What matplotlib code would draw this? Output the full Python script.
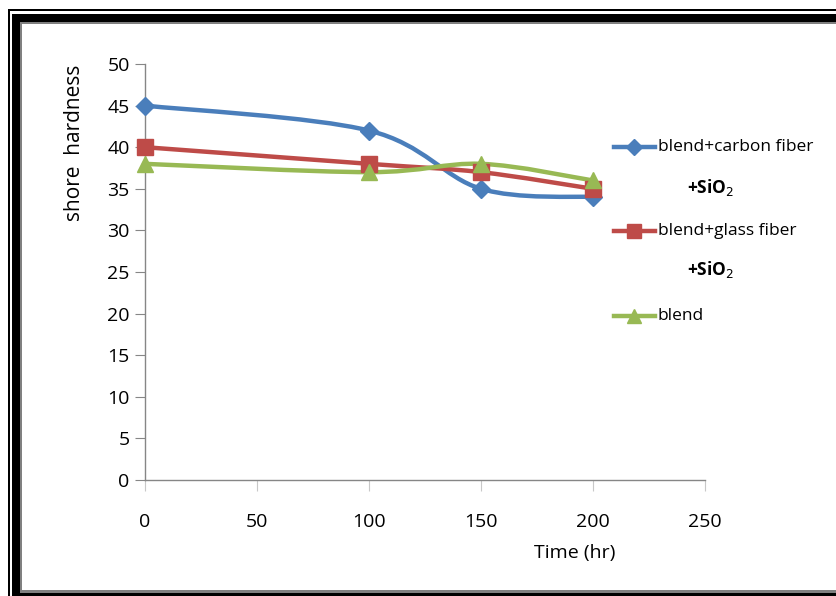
import numpy as np
import matplotlib
matplotlib.use("Agg")
import matplotlib.pyplot as plt
from matplotlib.path import Path
from matplotlib.patches import PathPatch, Rectangle
from matplotlib.lines import Line2D

plt.rcParams['font.family'] = ['Open Sans', 'DejaVu Sans']

# data
time_hr = [0, 100, 150, 200]
carbon = [45, 42, 35, 34]
glass = [40, 38, 37, 35]
blend = [38, 37, 38, 36]
series_names = ['blend+carbon fiber', 'blend+glass fiber', 'blend']
x_ticks = [0, 50, 100, 150, 200, 250]
y_ticks = [0, 5, 10, 15, 20, 25, 30, 35, 40, 45, 50]

colors = ['#4a7ebb', '#be4b48', '#98b954']
markers = ['D', 's', '^']
msizes = [9, 12, 12]

W, H = 837, 596
fig = plt.figure(figsize=(W / 100, H / 100), dpi=100)


def fx(px):
    return px / W


def fy(py):
    return 1 - py / H


# decorative double frame (open on the right side)
def rect(x0, y0, x1, y1, color):
    fig.add_artist(Rectangle((fx(x0), fy(y1)), fx(x1 - x0), fy(y0) - fy(y1),
                             transform=fig.transFigure, facecolor=color,
                             edgecolor='none', zorder=0))


rect(8, 9, 900, 700, 'black')
rect(10, 11, 900, 700, 'white')
rect(12, 14, 900, 700, 'black')
rect(20, 22, 900, 593, '#808080')
rect(22, 24, 900, 590, 'white')

ax = fig.add_axes([fx(145), fy(480), fx(705 - 145), fy(64) - fy(480)])
ax.set_facecolor('none')


def smooth_path(xs, ys):
    # Excel-style smoothed line through the data points (Catmull-Rom as Bezier)
    p = np.column_stack([xs, ys]).astype(float)
    verts = [p[0]]
    codes = [Path.MOVETO]
    n = len(p)
    for i in range(n - 1):
        p0 = p[i - 1] if i > 0 else p[i]
        p1, p2 = p[i], p[i + 1]
        p3 = p[i + 2] if i + 2 < n else p[i + 1]
        c1 = p1 + (p2 - p0) / 6
        c2 = p2 - (p3 - p1) / 6
        verts += [c1, c2, p2]
        codes += [Path.CURVE4] * 3
    return Path(verts, codes)


for ys, c, m, ms in zip([carbon, glass, blend], colors, markers, msizes):
    ax.add_patch(PathPatch(smooth_path(time_hr, ys), facecolor='none',
                           edgecolor=c, lw=3.2, zorder=2))
    ax.plot(time_hr, ys, ls='none', marker=m, ms=ms, color=c, zorder=3,
            clip_on=False)

ax.set_xlim(0, 250)
ax.set_ylim(0, 50)
ax.set_xticks(x_ticks)
ax.set_yticks(y_ticks)
for s in ['top', 'right']:
    ax.spines[s].set_visible(False)
for s in ['left', 'bottom']:
    ax.spines[s].set_color('#868686')
    ax.spines[s].set_linewidth(1)
ax.tick_params(axis='y', direction='out', length=7, color='#868686',
               labelsize=14, pad=4)
ax.tick_params(axis='x', direction='out', length=8, color='#c8c8c8',
               labelsize=14, pad=16)

fig.text(fx(75), fy(143), 'shore  hardness', rotation=90, fontsize=15,
         ha='center', va='center')
fig.text(fx(575), fy(553), 'Time (hr)', fontsize=14, ha='center', va='center')

# legend drawn by hand to keep the wrapped "+SiO2" lines
leg_y = [147, 231, 316]
for name, y, c, m, ms in zip(series_names, leg_y, colors, markers, msizes):
    fig.add_artist(Line2D([fx(614), fx(655)], [fy(y), fy(y)], color=c, lw=3.2,
                          transform=fig.transFigure))
    fig.add_artist(Line2D([fx(634)], [fy(y)], marker=m, ms=ms * 0.85, color=c,
                          transform=fig.transFigure))
    fig.text(fx(658), fy(y), name, fontsize=12.5, va='center', ha='left')
for y in [187, 270]:
    fig.text(fx(687), fy(y), '+SiO$_2$', fontsize=12.5, va='center',
             ha='left', fontweight='bold')

fig.savefig('out.png', dpi=100)
